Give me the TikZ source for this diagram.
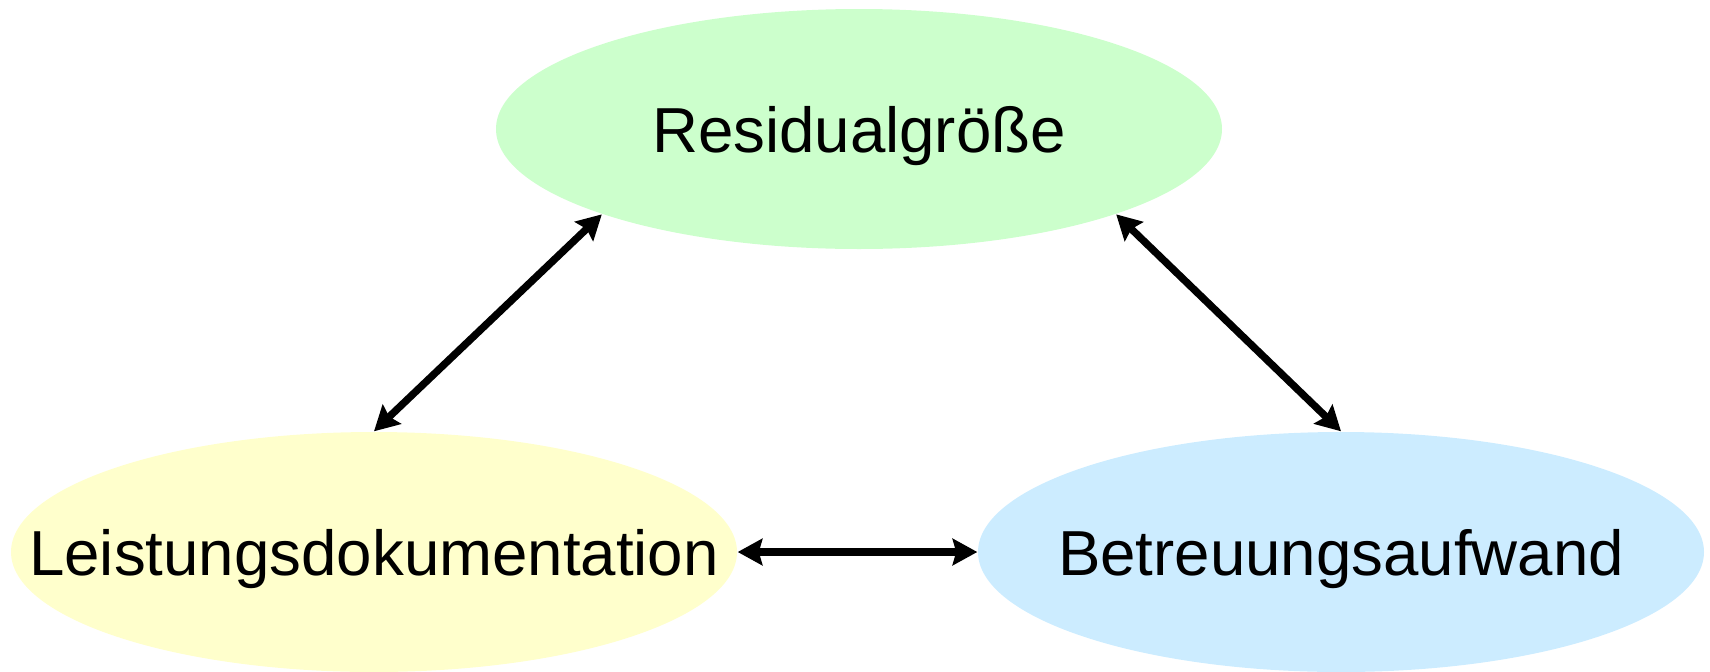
\documentclass[tikz,border=0pt]{standalone}
\usepackage{fontspec}
\setmainfont{Liberation Sans}
\usetikzlibrary{shapes.geometric,arrows.meta}
\definecolor{resgreen}{HTML}{CCFFCC}
\definecolor{leistyellow}{HTML}{FFFFCC}
\definecolor{betrblue}{HTML}{CCECFF}
% text may run past the ellipse without widening it, capitals centred
\newcommand{\blobtext}[1]{\makebox[0pt]{\raisebox{-2.3mm}[0pt][0pt]{#1}}}
\begin{document}
\begin{tikzpicture}[x=0.1mm, y=0.1mm,
        blob/.style={ellipse, inner sep=0pt, minimum width=72.6mm, minimum height=24mm,
            font=\fontsize{18.1}{22}\selectfont},
        link/.style={line width=2.1pt, {Stealth[length=7pt,width=7.5pt,inset=1pt]}-{Stealth[length=7pt,width=7.5pt,inset=1pt]}}]
        \useasboundingbox (0, 0) rectangle (1710, 671);
        \node [blob, fill=resgreen] (resid) at (859, 542) {\blobtext{Residualgröße}};
        \node [blob, fill=leistyellow] (leist) at (374, 119) {\blobtext{Leistungsdokumentation}};
        \node [blob, fill=betrblue] (betr) at (1341, 119) {\blobtext{Betreuungsaufwand}};
        \draw [link] (leist.north) -- (resid.south west);
        \draw [link] (betr.north) -- (resid.south east);
        \draw [link] (leist.east) -- (betr.west);
    \end{tikzpicture}
\end{document}
